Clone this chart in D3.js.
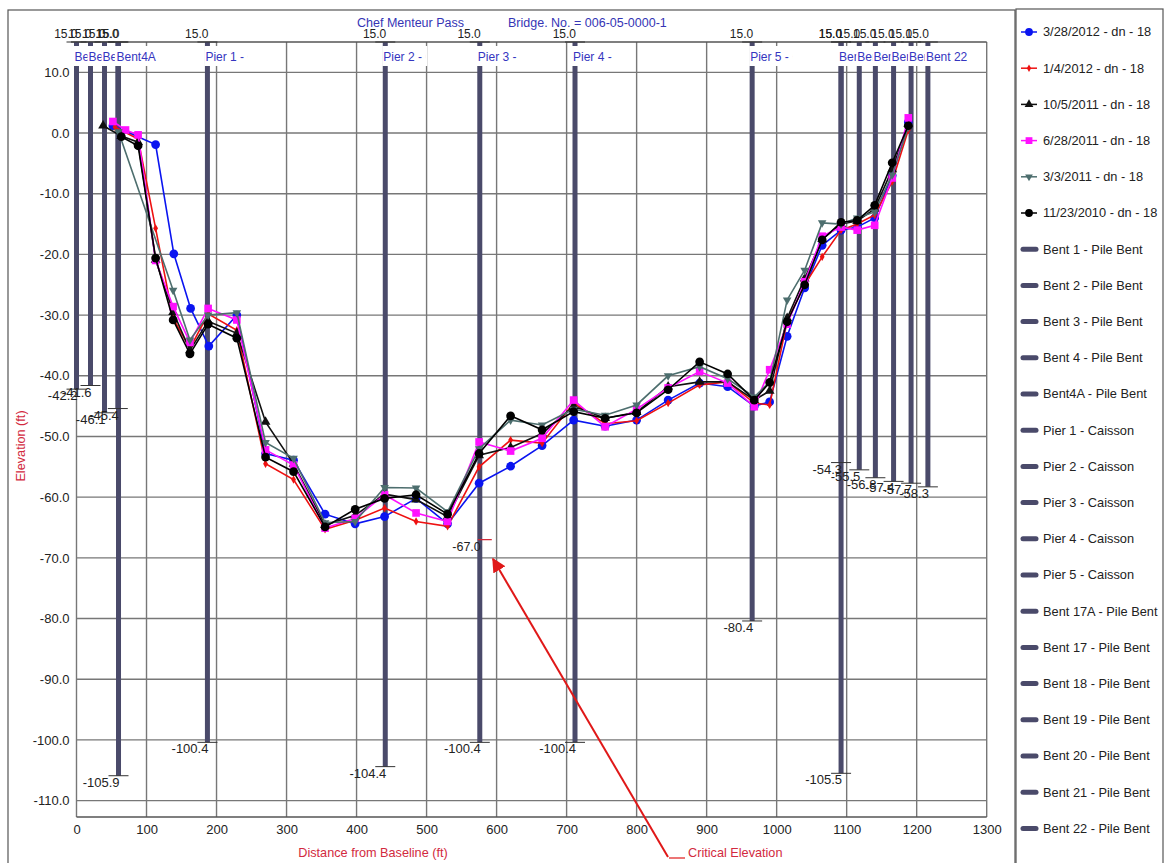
<!DOCTYPE html>
<html>
<head>
<meta charset="utf-8">
<script src="https://cdn.jsdelivr.net/npm/d3@7"></script>
<style>
body{margin:0;background:#fff;}
text{font-family:Arial,'Liberation Sans',sans-serif;}
</style>
</head>
<body>
<svg id="chart" width="1169" height="863"></svg>
<script>
// ---- data ----
var seriesNames = ['3/28/2012 - dn - 18','1/4/2012 - dn - 18','10/5/2011 - dn - 18',
                   '6/28/2011 - dn - 18','3/3/2011 - dn - 18','11/23/2010 - dn - 18'];

var sta_20120328  = [52,113,139,163,189,229,270,310,355,398,440,485,530,575,620,665,710,755,800,845,890,930,968,990,1015,1040,1065,1092,1115,1140,1165,1188];
var elev_20120328 = [1.2,-1.9,-19.9,-28.9,-35.1,-30.0,-52.8,-53.9,-62.8,-64.4,-63.2,-60.2,-64.4,-57.7,-54.9,-51.5,-47.3,-48.3,-47.3,-44.0,-41.2,-41.8,-45.0,-44.3,-33.5,-25.5,-18.5,-16.0,-15.5,-14.0,-7.0,1.8];

var sta_20120104  = [55,88,113,138,162,188,229,270,310,355,398,440,485,530,575,620,665,710,755,800,845,890,930,968,990,1015,1040,1065,1092,1115,1140,1165,1188];
var elev_20120104 = [1.0,-1.0,-15.7,-30.5,-35.5,-29.8,-32.5,-54.5,-57.1,-65.3,-63.8,-61.8,-64.0,-64.8,-55.0,-50.6,-51.1,-44.5,-47.9,-47.4,-44.5,-41.5,-41.0,-44.5,-44.8,-31.0,-25.0,-20.4,-16.0,-15.0,-13.5,-8.0,0.5];

var sta_20111005  = [38,64,88,113,138,162,188,229,270,310,355,398,440,485,530,575,620,665,710,755,800,845,890,930,968,990,1015,1040,1065,1092,1115,1140,1165,1188];
var elev_20111005 = [1.2,-0.5,-1.5,-20.9,-29.5,-35.8,-31.0,-33.0,-47.6,-54.5,-64.6,-63.0,-59.5,-60.4,-63.2,-53.1,-51.8,-49.5,-45.0,-47.0,-46.0,-41.8,-41.0,-41.0,-44.0,-42.5,-30.5,-24.0,-17.5,-15.0,-14.5,-12.5,-6.0,1.5];

var sta_20110628  = [52,70,88,113,138,162,188,229,270,310,355,398,440,485,530,575,620,665,710,755,800,845,890,930,968,990,1015,1040,1065,1092,1115,1140,1165,1188];
var elev_20110628 = [1.9,0.5,-0.3,-21.0,-28.6,-34.5,-28.9,-30.8,-52.2,-54.7,-65.1,-63.5,-59.6,-62.6,-64.0,-50.9,-52.4,-50.3,-44.0,-48.4,-45.5,-42.0,-39.3,-41.2,-45.1,-39.0,-31.5,-24.5,-17.0,-15.5,-16.0,-15.2,-7.4,2.5];

var sta_20110303  = [60,138,162,188,229,270,310,355,398,440,485,530,575,620,665,710,755,800,845,890,930,968,990,1015,1040,1065,1092,1115,1140,1165,1188];
var elev_20110303 = [0.2,-25.9,-34.1,-30.0,-29.6,-51.0,-53.6,-64.2,-64.0,-58.4,-58.5,-62.4,-52.0,-47.3,-48.1,-45.5,-46.5,-44.8,-40.0,-38.5,-40.5,-43.5,-41.0,-27.5,-22.6,-14.8,-15.0,-14.0,-13.0,-6.9,1.0];

var sta_20101123  = [64,88,113,138,162,188,229,270,310,355,398,440,485,530,575,620,665,710,755,800,845,890,930,968,990,1015,1040,1065,1092,1115,1140,1165,1188];
var elev_20101123 = [-0.6,-2.1,-20.6,-30.8,-36.4,-31.5,-33.8,-53.4,-55.8,-64.9,-62.0,-60.2,-59.6,-62.8,-52.8,-46.6,-48.9,-45.9,-47.0,-46.1,-42.3,-37.7,-39.7,-44.0,-41.1,-31.1,-25.0,-17.6,-14.7,-14.4,-11.9,-4.9,1.2];

var structNames = ['Bent 1 - Pile Bent','Bent 2 - Pile Bent','Bent 3 - Pile Bent','Bent 4 - Pile Bent',
                   'Bent4A - Pile Bent','Pier 1 - Caisson','Pier 2 - Caisson','Pier 3 - Caisson',
                   'Pier 4 - Caisson','Pier 5 - Caisson','Bent 17A - Pile Bent','Bent 17 - Pile Bent',
                   'Bent 18 - Pile Bent','Bent 19 - Pile Bent','Bent 20 - Pile Bent','Bent 21 - Pile Bent',
                   'Bent 22 - Pile Bent'];
var structStations = [0,20,40,59,60,187,441,576,712,965,1092,1092,1118,1141,1167,1192,1216];
var structTops     = [15,15,15,15,15,15,15,15,15,15,15,15,15,15,15,15,15];
var structBottoms  = [-42.2,-41.6,-46.1,-45.4,-105.9,-100.4,-104.4,-100.4,-100.4,-80.4,-105.5,-54.3,-55.5,-56.8,-57.4,-57.7,-58.3];

var critStation = 576, critElev = -67.0;
var xTicks = d3.range(0, 1301, 100);
var yTicks = d3.range(10, -111, -10);

// ---- layout ----
var svg = d3.select('#chart');
var x = d3.scaleLinear().domain([0, 1300]).range([76.5, 986.7]);
var y = d3.scaleLinear().domain([-112.7, 15]).range([817, 42]);
var fmt = d3.formatLocale({decimal:'.', thousands:',', grouping:[3], currency:['$',''], minus:'-'}).format('.1f');

var seriesColors  = ['#0a14f0','#ee1111','#111111','#ff10ff','#4d6e6e','#000000'];
var seriesSymbols = [d3.symbolCircle, d3.symbolDiamond, d3.symbolTriangle, d3.symbolSquare, d3.symbolTriangle, d3.symbolCircle];
var seriesSizes   = [60, 20, 42, 58, 32, 60];
var seriesRotate  = [0, 0, 0, 0, 180, 0];
var structColor = '#4a4a6a';
var gridColor = '#777';

var series = [
    [sta_20120328, elev_20120328], [sta_20120104, elev_20120104], [sta_20111005, elev_20111005],
    [sta_20110628, elev_20110628], [sta_20110303, elev_20110303], [sta_20101123, elev_20101123]
].map(function(p, i){
    return {name: seriesNames[i], pts: p[0].map(function(s, j){ return [s, p[1][j]]; }), i: i};
});
var structs = structNames.map(function(n, i){
    return {name: n, sta: structStations[i], top: structTops[i], bot: structBottoms[i], i: i};
});

// outer frames
svg.append('rect').attr('x', 8).attr('y', 10).attr('width', 1007).attr('height', 860)
    .attr('fill', 'none').attr('stroke', '#555').attr('stroke-width', 1.2);
svg.append('rect').attr('x', 1016).attr('y', 9).attr('width', 147).attr('height', 862)
    .attr('fill', 'none').attr('stroke', '#555').attr('stroke-width', 1.2);

// title
svg.append('text').attr('x', 357).attr('y', 27).attr('fill', '#3535b5').style('font-size', '12.5px')
    .text('Chef Menteur Pass');
svg.append('text').attr('x', 508).attr('y', 27).attr('fill', '#3535b5').style('font-size', '12.5px')
    .text('Bridge. No. = 006-05-0000-1');

var plot = svg.append('g');

// grid
plot.selectAll('.vgrid').data(xTicks).enter().append('line')
    .attr('x1', function(d){ return x(d); }).attr('x2', function(d){ return x(d); })
    .attr('y1', y(15)).attr('y2', y(-112.7))
    .attr('stroke', gridColor).attr('stroke-width', 1.4);
plot.selectAll('.hgrid').data(yTicks).enter().append('line')
    .attr('x1', x(0)).attr('x2', x(1300))
    .attr('y1', function(d){ return y(d); }).attr('y2', function(d){ return y(d); })
    .attr('stroke', gridColor).attr('stroke-width', 1.4);
plot.append('line').attr('x1', x(-8)).attr('x2', x(1300)).attr('y1', y(15)).attr('y2', y(15))
    .attr('stroke', '#555').attr('stroke-width', 1.4);
plot.append('line').attr('x1', x(0)).attr('x2', x(1300)).attr('y1', y(-112.7)).attr('y2', y(-112.7))
    .attr('stroke', '#555').attr('stroke-width', 1.4);

// axes
var xAxis = d3.axisBottom(x).tickValues(xTicks).tickSize(0).tickPadding(8).tickFormat(d3.format('d'));
var yAxis = d3.axisLeft(y).tickValues(yTicks).tickSize(0).tickPadding(7).tickFormat(fmt);
var gx = plot.append('g').attr('transform', 'translate(0,' + y(-112.7) + ')').call(xAxis);
var gy = plot.append('g').attr('transform', 'translate(' + x(0) + ',0)').call(yAxis);
[gx, gy].forEach(function(g){
    g.select('.domain').remove();
    g.selectAll('text').style('font-size', '13px').attr('fill', '#222')
        .style('font-family', 'Arial, Liberation Sans, sans-serif');
});

// axis titles
svg.append('text').attr('text-anchor', 'middle').attr('x', 373).attr('y', 857)
    .attr('fill', '#d22a40').style('font-size', '12.7px').text('Distance from Baseline (ft)');
svg.append('text').attr('text-anchor', 'middle').attr('transform', 'translate(25,446) rotate(-90)')
    .attr('fill', '#d22a40').style('font-size', '12.7px').text('Elevation (ft)');

// structures (piles / caissons)
plot.selectAll('.struct').data(structs).enter().append('line')
    .attr('x1', function(d){ return x(d.sta); }).attr('x2', function(d){ return x(d.sta); })
    .attr('y1', function(d){ return y(d.top); }).attr('y2', function(d){ return y(d.bot); })
    .attr('stroke', structColor).attr('stroke-width', 5);

// survey series
var line = d3.line().x(function(d){ return x(d[0]); }).y(function(d){ return y(d[1]); });
var sg = plot.selectAll('.series').data(series).enter().append('g');
sg.append('path').attr('d', function(d){ return line(d.pts); })
    .attr('fill', 'none').attr('stroke', function(d){ return seriesColors[d.i]; })
    .attr('stroke-width', 1.6);
sg.each(function(s){
    d3.select(this).selectAll('path.mk').data(s.pts).enter().append('path')
        .attr('class', 'mk')
        .attr('d', d3.symbol().type(seriesSymbols[s.i]).size(seriesSizes[s.i]))
        .attr('transform', function(d){
            return 'translate(' + x(d[0]) + ',' + y(d[1]) + ') rotate(' + seriesRotate[s.i] + ')';
        })
        .attr('fill', seriesColors[s.i]);
});

// structure top / bottom elevation ticks
structs.forEach(function(d){
    var sx = x(d.sta);
    plot.append('line').attr('x1', sx - 10).attr('x2', sx + 10).attr('y1', y(d.top)).attr('y2', y(d.top))
        .attr('stroke', '#333').attr('stroke-width', 1);
    plot.append('text').attr('x', sx + 1).attr('y', y(d.top) - 4).attr('text-anchor', 'end')
        .attr('fill', '#222').style('font-size', '12px').text(fmt(d.top));
    plot.append('line').attr('x1', sx - 10).attr('x2', sx + 10).attr('y1', y(d.bot)).attr('y2', y(d.bot))
        .attr('stroke', '#333').attr('stroke-width', 1);
    plot.append('text').attr('x', sx + 1).attr('y', y(d.bot) + 11).attr('text-anchor', 'end')
        .attr('fill', '#222').style('font-size', '13px').text(fmt(d.bot));
});

// structure name labels, each boxed and clipped, later ones covering earlier ones
var defs = svg.append('defs');
structs.forEach(function(d){
    var bx = x(d.sta) - 3;
    defs.append('clipPath').attr('id', 'clipS' + d.i).append('rect')
        .attr('x', bx).attr('y', 46).attr('width', 43).attr('height', 20);
    plot.append('rect').attr('x', bx).attr('y', 46).attr('width', 45).attr('height', 20).attr('fill', '#fff');
    plot.append('text').attr('clip-path', 'url(#clipS' + d.i + ')')
        .attr('x', bx + 1).attr('y', 61).attr('fill', '#3535c0')
        .style('font-size', '12px').text(d.name);
});

// critical elevation
var cx = x(critStation), cy = y(critElev);
plot.append('line').attr('x1', cx - 2).attr('x2', cx + 12).attr('y1', cy).attr('y2', cy)
    .attr('stroke', '#d02030').attr('stroke-width', 1.2);
plot.append('text').attr('x', cx + 1).attr('y', cy + 11).attr('text-anchor', 'end')
    .attr('fill', '#222').style('font-size', '12.5px').text(fmt(critElev));

defs.append('marker').attr('id', 'arrow').attr('viewBox', '0 0 10 10').attr('refX', 9).attr('refY', 5)
    .attr('markerWidth', 7).attr('markerHeight', 7).attr('orient', 'auto')
    .append('path').attr('d', 'M0,0L10,5L0,10Z').attr('fill', '#e01818');
svg.append('line').attr('x1', 668).attr('y1', 857).attr('x2', 493).attr('y2', 559)
    .attr('stroke', '#e01818').attr('stroke-width', 2).attr('marker-end', 'url(#arrow)');
svg.append('line').attr('x1', 669).attr('x2', 685).attr('y1', 858).attr('y2', 858)
    .attr('stroke', '#e01818').attr('stroke-width', 1.2);
svg.append('text').attr('x', 688).attr('y', 857).attr('fill', '#d22a40').style('font-size', '12.7px')
    .text('Critical Elevation');

// legend
var legendItems = series.map(function(s){ return {name: s.name, type: 'series', i: s.i}; })
    .concat(structs.map(function(s){ return {name: s.name, type: 'struct', i: s.i}; }));
var leg = svg.selectAll('.leg').data(legendItems).enter().append('g')
    .attr('transform', function(d, i){ return 'translate(1021,' + (32 + i * 36.2) + ')'; });
leg.each(function(d){
    var g = d3.select(this);
    if (d.type === 'series') {
        g.append('line').attr('x1', 0).attr('x2', 16).attr('stroke', seriesColors[d.i]).attr('stroke-width', 1.5);
        g.append('path').attr('d', d3.symbol().type(seriesSymbols[d.i]).size(seriesSizes[d.i] * 0.8))
            .attr('transform', 'translate(8,0) rotate(' + seriesRotate[d.i] + ')')
            .attr('fill', seriesColors[d.i]);
    } else {
        g.append('line').attr('x1', 2).attr('x2', 15).attr('stroke', structColor)
            .attr('stroke-width', 5).attr('stroke-linecap', 'round');
    }
    g.append('text').attr('x', 22).attr('dy', '0.35em').attr('fill', '#222')
        .style('font-size', '12.8px').text(d.name);
});
</script>
</body>
</html>
